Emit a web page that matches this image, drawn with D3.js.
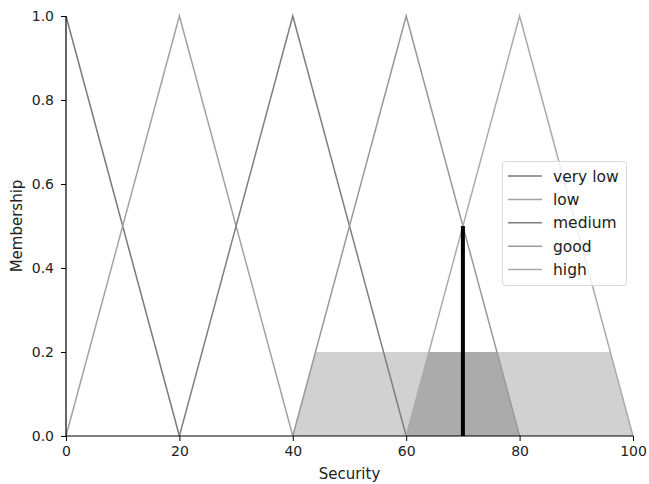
<!DOCTYPE html>
<html><head><meta charset="utf-8">
<script src="https://cdn.jsdelivr.net/npm/d3@7"></script>
<style>body{margin:0;background:#fff}svg{display:block}text{font-family:"DejaVu Sans",sans-serif}</style>
</head><body><svg id="c" width="649" height="484"></svg>
<script>
const setNames = ["very low","low","medium","good","high"];
const setPoints = [[0,0,20],[0,20,40],[20,40,60],[40,60,80],[60,80,100]];
const setColors = ["#7a7a7a","#a3a3a3","#7f7f7f","#999999","#ababab"];
const xTicks = [0,20,40,60,80,100];
const yTicks = [0,0.2,0.4,0.6,0.8,1.0];
const activation = 0.2;
const clippedSets = [3,4];
const inputValue = 70;
const inputMembership = 0.5;

const svg = d3.select("#c");
const x = d3.scaleLinear().domain([0,100]).range([66,633]);
const y = d3.scaleLinear().domain([0,1]).range([436,16]);

function tri(p, v){
  const [a,b,c]=p;
  if (v===b) return 1;
  if (v<=a||v>=c) return 0;
  return v<b ? (v-a)/(b-a) : (c-v)/(c-b);
}
const xs = d3.range(0,100.01,0.5);

// fills
clippedSets.forEach(i=>{
  const area = d3.area().x(d=>x(d)).y0(y(0)).y1(d=>y(Math.min(activation, tri(setPoints[i], d))));
  svg.append("path").attr("d", area(xs)).attr("fill","#000").attr("fill-opacity",0.18).attr("stroke","none");
});

// lines
setPoints.forEach((p,i)=>{
  const pts = [[p[0], p[0]===p[1]?1:0],[p[1],1],[p[2], p[2]===p[1]?1:0]];
  svg.append("path").attr("d", d3.line().x(d=>x(d[0])).y(d=>y(d[1]))(pts))
    .attr("fill","none").attr("stroke",setColors[i]).attr("stroke-width",1.5);
});

// input line
svg.append("line").attr("x1",x(inputValue)).attr("x2",x(inputValue))
  .attr("y1",y(0)).attr("y2",y(inputMembership)).attr("stroke","#000").attr("stroke-width",4);

// axes
const xa = svg.append("g").attr("transform",`translate(0,${y(0)})`)
  .call(d3.axisBottom(x).tickValues(xTicks).tickSize(5).tickPadding(5));
const ya = svg.append("g").attr("transform",`translate(${x(0)},0)`)
  .call(d3.axisLeft(y).tickValues(yTicks).tickFormat(d3.format(".1f")).tickSize(5).tickPadding(7));
[xa,ya].forEach(g=>{
  g.select(".domain").attr("stroke","#000").attr("stroke-width",1.2);
  g.selectAll(".tick line").attr("stroke","#000").attr("stroke-width",1);
  g.selectAll(".tick text").attr("fill","#222").style("font-size","14px").style("font-family","DejaVu Sans");
});
xa.select(".domain").attr("d",`M${x(0)},0H${x(100)}`);
ya.select(".domain").attr("d",`M0,${y(0)}V${y(1)}`);

svg.append("text").attr("x",(x(0)+x(100))/2).attr("y",479).attr("text-anchor","middle")
  .attr("fill","#222").style("font-size","15px").text("Security");
svg.append("text").attr("transform",`translate(22,${(y(0)+y(1))/2}) rotate(-90)`).attr("text-anchor","middle")
  .attr("fill","#222").style("font-size","15px").text("Membership");

// legend
const lg = svg.append("g");
lg.append("rect").attr("x",502.5).attr("y",161.5).attr("width",124).attr("height",124).attr("rx",3)
  .attr("fill","#fff").attr("fill-opacity",0.8).attr("stroke","#d8d8d8");
setNames.forEach((n,i)=>{
  const yy = 176 + i*23.4;
  lg.append("line").attr("x1",508).attr("x2",542).attr("y1",yy).attr("y2",yy).attr("stroke",setColors[i]).attr("stroke-width",1.5);
  lg.append("text").attr("x",553).attr("y",yy+5.5).attr("fill","#222").style("font-size","15.5px").text(n);
});
</script></body></html>
